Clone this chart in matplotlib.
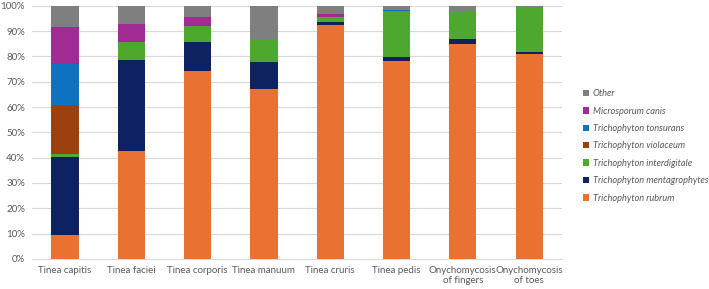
import matplotlib.pyplot as plt
import numpy as np

plt.rcParams['font.family'] = ['Lato', 'DejaVu Sans']

# categories and cumulative tops (%), per species
categories = ['Tinea capitis', 'Tinea faciei', 'Tinea corporis', 'Tinea manuum',
              'Tinea cruris', 'Tinea pedis', 'Onychomycosis\nof fingers', 'Onychomycosis\nof toes']
species = ['Trichophyton rubrum', 'Trichophyton mentagrophytes', 'Trichophyton interdigitale',
           'Trichophyton violaceum', 'Trichophyton tonsurans', 'Microsporum canis', 'Other']

rubrum = [9.5, 42.8, 74.2, 67.2, 92.4, 78.0, 84.9, 81.1]
mentagrophytes = [30.6, 35.8, 11.6, 10.4, 1.0, 1.9, 2.0, 0.5]
interdigitale = [1.2, 7.2, 6.1, 8.7, 2.2, 18.1, 11.2, 17.8]
violaceum = [19.5, 0.0, 0.3, 0.0, 0.0, 0.0, 0.0, 0.0]
tonsurans = [16.2, 0.0, 0.0, 0.0, 0.0, 0.5, 0.0, 0.3]
canis = [14.5, 7.1, 3.3, 0.0, 1.3, 0.0, 0.0, 0.0]
other = [8.5, 7.1, 4.5, 13.7, 3.1, 1.5, 1.9, 0.3]

series = [rubrum, mentagrophytes, interdigitale, violaceum, tonsurans, canis, other]
colors = ['#E97132', '#0E2160', '#4EA72E', '#9C410E', '#0F72C1', '#A02B93', '#7F7F7F']

fig = plt.figure(figsize=(7.09, 2.89), dpi=100)
ax = fig.add_axes([0.045, 0.104, 0.748, 0.876])

x = np.arange(len(categories))
bottom = np.zeros(len(categories))
handles = []
for name, vals, c in zip(species, series, colors):
    b = ax.bar(x, vals, 0.41, bottom=bottom, color=c, label=name, zorder=3)
    bottom += np.array(vals)
    handles.append(b)

ax.set_xlim(-0.5, len(categories) - 0.5)
ax.set_ylim(0, 100)
ax.set_yticks(np.arange(0, 101, 10))
ax.set_yticklabels([f'{v}%' for v in range(0, 101, 10)])
ax.set_xticks(x)
ax.set_xticklabels(categories)
ax.grid(axis='y', color='#D9D9D9', linewidth=0.8, zorder=0)
for s in ax.spines.values():
    s.set_visible(False)
ax.spines['bottom'].set_visible(True)
ax.spines['bottom'].set_color('#D9D9D9')
ax.tick_params(length=0, labelsize=7, labelcolor='#595959', pad=5)

leg = fig.legend(handles[::-1], species[::-1], loc='upper left',
                 bbox_to_anchor=(0.81, 0.72), frameon=False,
                 prop={'size': 6.7, 'style': 'italic'}, labelcolor='#595959',
                 handlelength=0.7, handleheight=0.7, handletextpad=0.4,
                 labelspacing=0.9)

fig.savefig('out.png', dpi=100)
